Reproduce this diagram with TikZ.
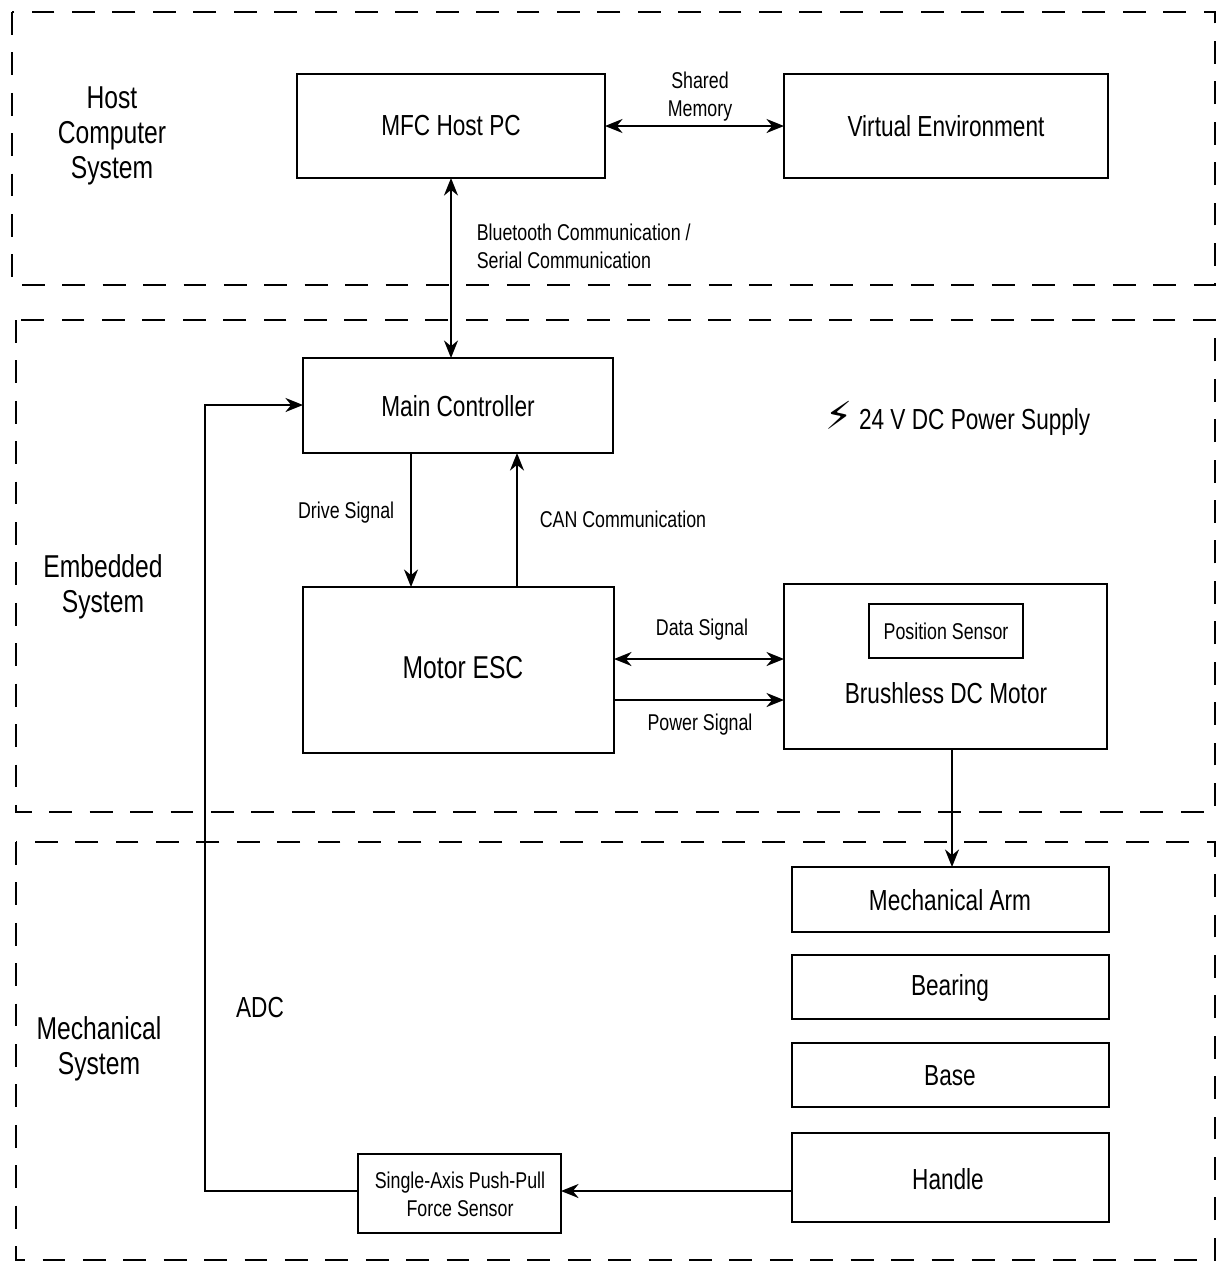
\documentclass[tikz,border=0pt]{standalone}
\usepackage{fontspec}
\setmainfont{Liberation Sans}[FakeStretch=0.78]
\newfontfamily\symfont{DejaVu Sans}
\usetikzlibrary{arrows.meta}

\tikzset{
	zone/.style={draw=black,line width=1.1pt,dash pattern=on 13pt off 10pt},
	lbl/.style={font=\fontsize{13}{16}\selectfont,align=center},
	big/.style={font=\fontsize{18}{20}\selectfont,align=center},
	mid/.style={font=\fontsize{16.5}{19}\selectfont,align=center},
}

\begin{document}
\begin{tikzpicture}[x=0.02cm,y=-0.02cm,>={Stealth[black,length=10pt,width=8pt]},line width=1.1pt]
	\useasboundingbox (0,0) rectangle (1230,1279);

	% zones
	\draw[zone] (12,12) rectangle (1215,285);
	\draw[zone] (16,320) rectangle (1215,812);
	\draw[zone] (16,842) rectangle (1215,1260);
	\node[big] (host) at (112,136) {Host\\Computer\\System};
	\node[big] (emb) at (103,587) {Embedded\\System};
	\node[big] (mech) at (99,1049) {Mechanical\\System};

	% blocks
	\draw (297,74) rectangle (605,178);
	\node[mid] (pc) at (451,126) {MFC Host PC};
	\draw (784,74) rectangle (1108,178);
	\node[mid] (ve) at (946,126) {Virtual Environment};
	\draw (303,358) rectangle (613,453);
	\node[mid] (mc) at (458,406) {Main Controller};
	\draw (303,587) rectangle (614,753);
	\node[big] (esc) at (463,668) {Motor ESC};
	\draw (784,584) rectangle (1107,749);
	\draw (869,604) rectangle (1023,658);
	\node[lbl] (ps) at (946,631) {Position Sensor};
	\node[mid] (bldc) at (946,693) {Brushless DC Motor};
	\draw (792,867) rectangle (1109,932);
	\node[mid] (arm) at (950,900) {Mechanical Arm};
	\draw (792,955) rectangle (1109,1019);
	\node[mid] (bear) at (950,988) {Bearing};
	\draw (792,1043) rectangle (1109,1107);
	\node[mid] (base) at (950,1076) {Base};
	\draw (792,1133) rectangle (1109,1222);
	\node[mid] (hand) at (948,1179) {Handle};
	\draw (358,1154) rectangle (561,1233);
	\node[lbl] (fs) at (460,1194) {Single-Axis Push-Pull\\Force Sensor};

	\node[mid] (pwr) at (958,418) {{\symfont\fontsize{22}{22}\selectfont\char"26A1}\ 24 V DC Power Supply};

	% connectors
	\coordinate (pcE) at (605,126); \coordinate (veW) at (784,126);
	\draw[<->] (pcE) -- (veW);
	\node[lbl] (shm) at (700,97) {Shared\\Memory};
	\coordinate (pcS) at (451,178); \coordinate (mcN) at (451,358);
	\draw[<->] (pcS) -- (mcN);
	\node[lbl,align=left,anchor=west] (bt) at (470,246) {Bluetooth Communication /\\Serial Communication};
	\coordinate (mcS) at (411,453); \coordinate (escN) at (411,587);
	\draw[->] (mcS) -- (escN);
	\node[lbl,anchor=east] (drv) at (401,513) {Drive Signal};
	\coordinate (escN2) at (517,587); \coordinate (mcS2) at (517,453);
	\draw[->] (escN2) -- (mcS2);
	\node[lbl,anchor=west] (can) at (533,519) {CAN Communication};
	\coordinate (escE1) at (614,659); \coordinate (mW1) at (784,659);
	\draw[<->] (escE1) -- (mW1);
	\node[lbl] (dat) at (702,630) {Data Signal};
	\coordinate (escE2) at (614,700); \coordinate (mW2) at (784,700);
	\draw[->] (escE2) -- (mW2);
	\node[lbl] (pws) at (700,725) {Power Signal};
	\coordinate (mS) at (952,749); \coordinate (armN) at (952,867);
	\draw[->] (mS) -- (armN);
	\coordinate (handW) at (792,1191); \coordinate (fsE) at (561,1191);
	\draw[->] (handW) -- (fsE);
	\coordinate (fsW) at (358,1191); \coordinate (mcW) at (303,405);
	\draw[->] (fsW) -- (205,1191) -- (205,405) -- (mcW);
	\node[mid] (adc) at (260,1008) {ADC};
\end{tikzpicture}
\end{document}
